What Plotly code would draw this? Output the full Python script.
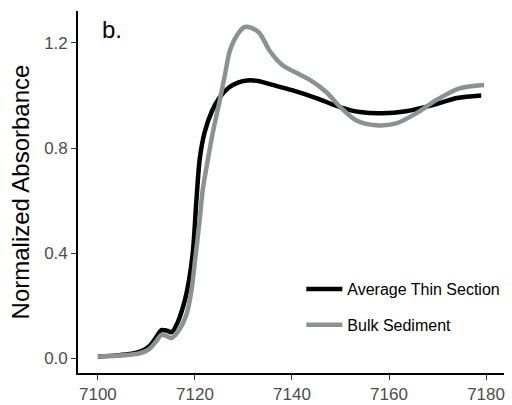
import plotly.graph_objects as go

# Energy (eV) and normalized absorbance
thin_x = [7100, 7104, 7107, 7109, 7110.5, 7112, 7113.1, 7114.2, 7115.2, 7116.5, 7117.9, 7118.8,
          7119.6, 7120.3, 7121, 7122, 7123.5, 7125, 7127, 7129, 7130.8, 7133, 7136, 7140, 7145,
          7150, 7154, 7158.6, 7163.5, 7169, 7174, 7179]
thin_y = [0.008, 0.012, 0.018, 0.028, 0.045, 0.08, 0.108, 0.106, 0.10, 0.14, 0.22, 0.30,
          0.41, 0.6, 0.76, 0.86, 0.94, 0.99, 1.03, 1.05, 1.057, 1.055, 1.04, 1.02, 0.99,
          0.955, 0.937, 0.932, 0.94, 0.963, 0.99, 1.0]

bulk_x = [7100, 7104, 7107, 7109, 7110.5, 7112, 7113.1, 7114.2, 7115.2, 7116.8, 7118.3, 7119.3,
          7120, 7121, 7121.6, 7122.7, 7123.7, 7125.1, 7126.2, 7127.2, 7128.7, 7130.2, 7131.5,
          7133.3, 7135.4, 7138, 7141, 7143.6, 7147, 7150, 7153.2, 7157.3, 7161.5, 7165.6,
          7169.7, 7174.5, 7179.6]
bulk_y = [0.008, 0.011, 0.015, 0.022, 0.035, 0.065, 0.09, 0.085, 0.078, 0.11, 0.17, 0.26,
          0.37, 0.53, 0.64, 0.76, 0.86, 0.98, 1.08, 1.17, 1.23, 1.26, 1.258,
          1.237, 1.17, 1.116, 1.085, 1.06, 1.014, 0.955, 0.906, 0.887, 0.894, 0.932,
          0.982, 1.027, 1.04]

x_ticks = [7100, 7120, 7140, 7160, 7180]
y_ticks = [0.0, 0.4, 0.8, 1.2]
y_tick_labels = ["0.0", "0.4", "0.8", "1.2"]

FONT = "Liberation Sans, Arial, Helvetica, sans-serif"

fig = go.Figure()
fig.add_trace(go.Scatter(x=thin_x, y=thin_y, mode="lines", name="Average Thin Section",
                         line=dict(color="black", width=4.5, shape="spline", smoothing=0.8),
                         legendgroup="a"))
fig.add_trace(go.Scatter(x=bulk_x, y=bulk_y, mode="lines", name="Bulk Sediment",
                         line=dict(color="#8d9191", width=4.5, shape="spline", smoothing=0.8),
                         legendgroup="b"))

axis_common = dict(showline=True, linecolor="black", linewidth=1.6, showgrid=False,
                   zeroline=False, ticks="outside", ticklen=5, tickcolor="#333333", tickwidth=1.2,
                   automargin=False,
                   tickfont=dict(family=FONT, size=17, color="#4d4d4d"))

fig.update_layout(
    width=512, height=405,
    margin=dict(l=78, r=7, t=11, b=32),
    paper_bgcolor="white", plot_bgcolor="white",
    font=dict(family=FONT, color="black"),
    xaxis=dict(range=[7095.9, 7183.7], tickvals=x_ticks, **axis_common),
    yaxis=dict(range=[-0.055, 1.321], tickvals=y_ticks, ticktext=y_tick_labels,
               title=dict(text="Normalized Absorbance", font=dict(family=FONT, size=24, color="black"),
                          standoff=8),
               **axis_common),
    legend=dict(x=0.523, y=0.279, xanchor="left", yanchor="top", bgcolor="rgba(0,0,0,0)",
                font=dict(family=FONT, size=16, color="black"), traceorder="grouped",
                tracegroupgap=12, itemwidth=36),
    annotations=[dict(text="b.", x=0.052, y=0.95, xref="paper", yref="paper",
                      xanchor="left", yanchor="middle", showarrow=False,
                      font=dict(family=FONT, size=24, color="black"))],
)

fig.write_html("out.html", config={"displayModeBar": False},
               post_script="document.body.style.margin='0';")
